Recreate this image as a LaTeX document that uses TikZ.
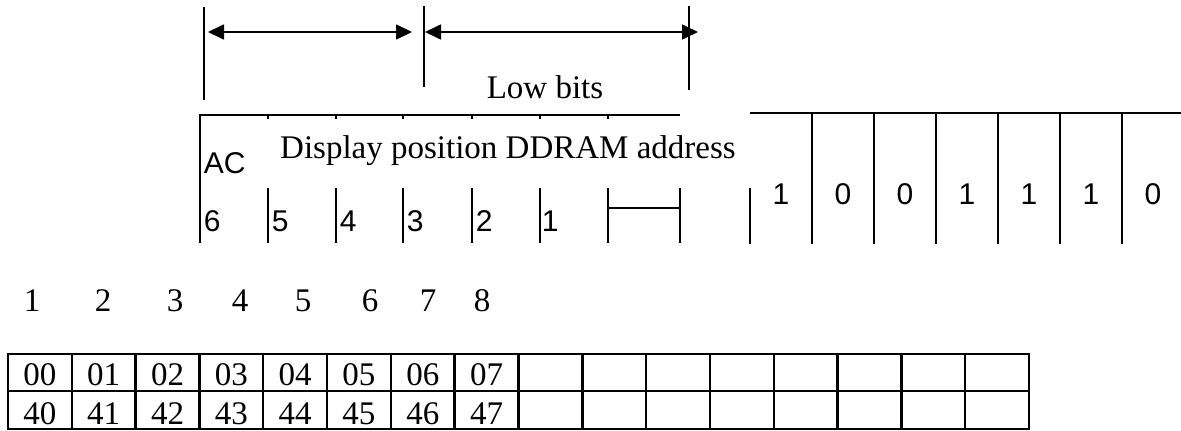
\documentclass[tikz,border=0pt]{standalone}
\usepackage{fontspec}
\setmainfont{Liberation Serif}
\newfontfamily\arialfam{Liberation Sans}
\usetikzlibrary{arrows.meta}

\begin{document}
\begin{tikzpicture}[x=1pt,y=-1pt,line width=1.7pt,
  serif/.style={font=\fontsize{33}{36}\selectfont,inner sep=0pt},
  sans/.style={font=\arialfam\fontsize{30}{34}\selectfont,inner sep=0pt},
  dimline/.style={{Triangle[length=16pt,width=15pt]}-{Triangle[length=16pt,width=15pt]},line width=1.7pt},
  gridline/.style={line width=2.4pt}]
\useasboundingbox (0,0) rectangle (1181,431);

% extension lines of the bit ranges
\coordinate (e1t) at (204,7);   \coordinate (e1b) at (204,100);
\coordinate (e2t) at (424,6);   \coordinate (e2b) at (424,87);
\coordinate (e3t) at (689,6);   \coordinate (e3b) at (689,90);
\draw (e1t) -- (e1b);
\draw (e2t) -- (e2b);
\draw (e3t) -- (e3b);

% dimension arrows
\coordinate (a1l) at (208,32);  \coordinate (a1r) at (412,32);
\coordinate (a2l) at (425,32);  \coordinate (a2r) at (698,32);
\draw[dimline] (a1l) -- (a1r);
\draw[dimline] (a2l) -- (a2r);
\node[serif,anchor=base] (lowbits) at (545,98) {Low bits};

% address register frame
\draw (200,243) -- (200,115) -- (680,115);
\foreach \x in {268,336,403,472,540,608}{
  \draw (\x,115) -- (\x,119);
}
\node[sans,anchor=base west] (ac) at (203,173) {AC};
\node[serif,anchor=base] (caption) at (508,158) {Display position DDRAM address};

% bit positions
\foreach \x in {268,336,403,472,540,608,680}{
  \draw (\x,188) -- (\x,243);
}
\draw (608,208) -- (680,208);
\node[sans,anchor=base west] (b6) at (203,231) {6};
\node[sans,anchor=base west] (b5) at (271,231) {5};
\node[sans,anchor=base west] (b4) at (339,231) {4};
\node[sans,anchor=base west] (b3) at (406,231) {3};
\node[sans,anchor=base west] (b2) at (475,231) {2};
\node[sans,anchor=base west] (b1) at (541,231) {1};

% bit values
\draw (750,113) -- (1181,113);
\draw (750,188) -- (750,244);
\foreach \k in {0,...,5}{
  \draw ({812+62*\k},113) -- ({812+62*\k},244);
}
\foreach \v [count=\i from 0] in {1,0,0,1,1,1,0}{
  \node[sans,anchor=base] (v\i) at ({781+62*\i},204) {\v};
}

% display column numbers
\foreach \n/\x in {1/32,2/103,3/175,4/240,5/303,6/370,7/428,8/482}{
  \node[serif,anchor=base] (col\n) at (\x,311) {\n};
}

% DDRAM address table
\draw[gridline] (8,354) rectangle (1029,429);
\draw[gridline] (8,391) -- (1029,391);
\foreach \i in {1,...,15}{
  \draw[gridline] ({8+63.8125*\i},354) -- ({8+63.8125*\i},429);
}
\foreach \i in {0,...,7}{
  \node[serif,anchor=base] (r0c\i) at ({8+63.8125*(\i+0.5)},385) {0\i};
  \node[serif,anchor=base] (r1c\i) at ({8+63.8125*(\i+0.5)},424) {4\i};
}
\end{tikzpicture}
\end{document}
